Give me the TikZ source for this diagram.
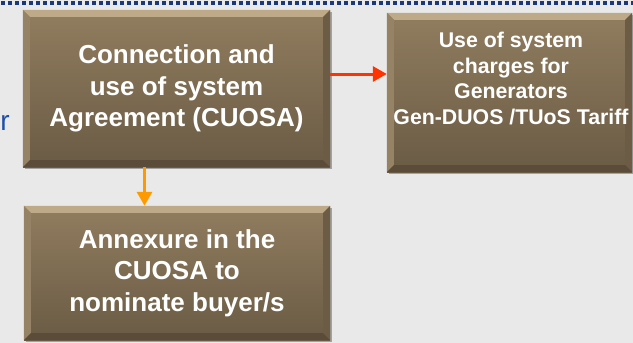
\documentclass[tikz,border=0pt]{standalone}
\usepackage{fontspec}
\setmainfont{Liberation Sans}
\usetikzlibrary{arrows.meta,shadows}
\definecolor{bg}{RGB}{233,233,233}
\definecolor{navy}{RGB}{26,56,122}
\definecolor{linkblue}{RGB}{31,79,168}
\definecolor{facetop}{RGB}{145,125,95}
\definecolor{facebot}{RGB}{106,91,69}
\definecolor{bevtop}{RGB}{190,170,136}
\definecolor{bevleft}{RGB}{150,130,100}
\definecolor{bevright}{RGB}{108,92,70}
\definecolor{bevbot}{RGB}{90,76,57}
\definecolor{arroworange}{RGB}{255,153,0}
\definecolor{arrowred}{RGB}{255,51,0}
\tikzset{
  bbox/.style={rectangle, inner sep=0pt, draw=none,
    top color=facetop, bottom color=facebot,
    drop shadow={shadow xshift=2pt, shadow yshift=-2pt, opacity=0.3, fill=black},
    text=white, align=center, font=\bfseries\fontsize{26}{31.5}\selectfont},
  smalltext/.style={text=white, align=center, inner sep=0pt,
    font=\bfseries\fontsize{21.3}{25.6}\selectfont},
  link/.style={line width=3pt, -{Triangle[length=14pt,width=15pt]}},
}
% bevelled rim around a named box node; #2 is the rim width
\newcommand\bevelrim[2]{%
  \fill[bevtop] (#1.north west) -- (#1.north east) -- ([shift={(-#2,-#2)}]#1.north east) -- ([shift={(#2,-#2)}]#1.north west) -- cycle;
  \fill[bevleft] (#1.north west) -- ([shift={(#2,-#2)}]#1.north west) -- ([shift={(#2,#2)}]#1.south west) -- (#1.south west) -- cycle;
  \fill[bevright] (#1.north east) -- ([shift={(-#2,-#2)}]#1.north east) -- ([shift={(-#2,#2)}]#1.south east) -- (#1.south east) -- cycle;
  \fill[bevbot] (#1.south west) -- ([shift={(#2,#2)}]#1.south west) -- ([shift={(-#2,#2)}]#1.south east) -- (#1.south east) -- cycle;
}
\begin{document}
\begin{tikzpicture}[x=1pt,y=-1pt]
\fill[bg] (0,0) rectangle (633,343);
\useasboundingbox (0,0) rectangle (633,343);

% dotted rule along the top
\draw[navy, line width=4pt, dash pattern=on 4pt off 3pt] (1,2.5) -- (633,2.5);

% cut-off word on the left
\node[anchor=base east, text=linkblue, inner sep=0pt, font=\fontsize{28}{32}\selectfont] (cut) at (10,130) {r};

% boxes
\node[bbox, minimum width=307pt, minimum height=157pt] (cuosa) at (176.5,88.5)
  {Connection and\\use of system\\Agreement (CUOSA)};
\bevelrim{cuosa}{7pt}

\node[bbox, minimum width=245pt, minimum height=159pt] (tariff) at (509.5,92.5) {};
\bevelrim{tariff}{7pt}
\node[smalltext] (tarifftext) at (511,78.5)
  {Use of system\\charges for\\Generators\\Gen-DUOS /TUoS Tariff};

\node[bbox, minimum width=306pt, minimum height=134pt] (annex) at (177,273)
  {Annexure in the\\CUOSA to\\nominate buyer/s};
\bevelrim{annex}{7pt}

% connectors
\coordinate (ax) at (144.5,0);
\coordinate (ay) at (0,74);
\draw[link, arroworange] (cuosa.south -| ax) -- (annex.north -| ax);
\draw[link, arrowred] (cuosa.east |- ay) -- (tariff.west |- ay);
\end{tikzpicture}
\end{document}
